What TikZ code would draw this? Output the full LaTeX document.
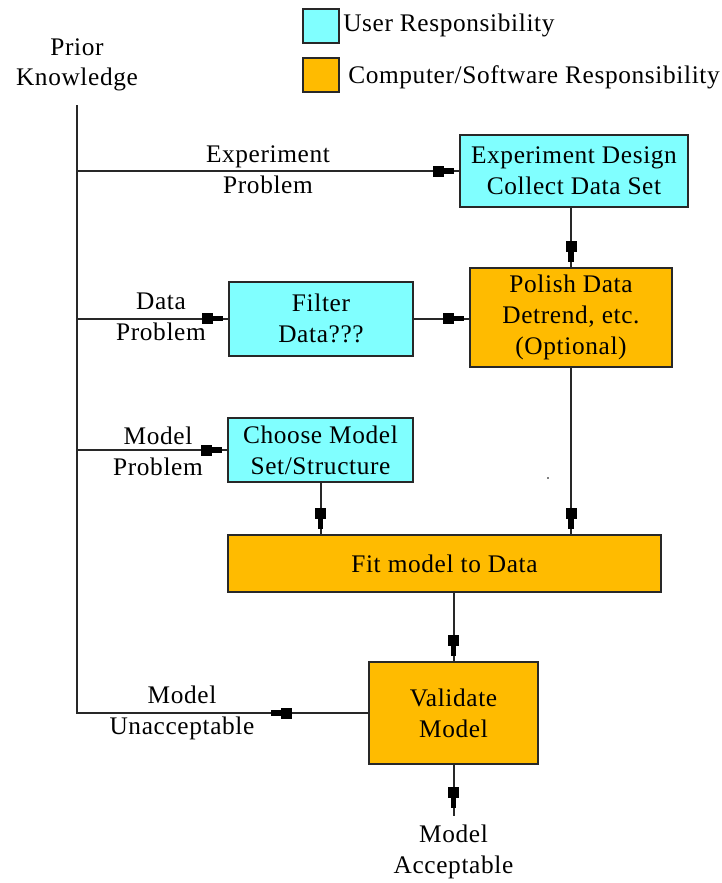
\documentclass[tikz,border=0pt]{standalone}
\usepackage{fontspec}
\setmainfont{Liberation Serif}[LetterSpace=2.5]
\usetikzlibrary{decorations.markings}
\definecolor{usercol}{RGB}{128,255,255}
\definecolor{compcol}{RGB}{255,187,0}
\definecolor{edgecol}{RGB}{40,40,40}
\newcommand\myblockhead{\fill[black] (-21,-5.5) rectangle (-10,5.5); \fill[black] (-10.5,-2.8) rectangle (0,2.8);}
\tikzset{
  box/.style={draw=edgecol, line width=1.5pt, rectangle, align=center, inner sep=2pt},
  userbox/.style={box, fill=usercol},
  compbox/.style={box, fill=compcol},
  conn/.style={draw=edgecol, line width=1.5pt},
  headat/.style={postaction={decorate, decoration={markings, mark=at position #1 with {\myblockhead}}}},
  lbl/.style={align=center, inner sep=0pt},
}
\begin{document}
\begin{tikzpicture}[x=0.75pt, y=-0.75pt, font=\rmfamily\fontsize{19}{23}\selectfont]
\useasboundingbox (0,0) rectangle (722,883);
% legend
\node[userbox, minimum width=27pt, minimum height=25.5pt] (lu) at (321,26) {};
\node[anchor=west, inner sep=0pt] (lut) at (343,25) {User Responsibility};
\node[compbox, minimum width=27pt, minimum height=25.5pt] (lc) at (321,75) {};
\node[anchor=west, inner sep=0pt] (lct) at (348,77) {Computer/Software Responsibility};
% prior
\node[lbl] (prior) at (77,65) {Prior\\Knowledge};
\coordinate (pk) at (77,105);
% boxes
\node[userbox, minimum width=171pt, minimum height=54pt] (exp) at (574,171) {Experiment Design\\Collect Data Set};
\node[compbox, minimum width=151.5pt, minimum height=74pt] (pol) at (571,317.5) {Polish Data\\Detrend, etc.\\(Optional)};
\node[userbox, minimum width=138pt, minimum height=55.5pt] (fil) at (321,318.5) {Filter\\Data???};
\node[userbox, minimum width=138.75pt, minimum height=48pt] (cho) at (320.5,450) {Choose Model\\Set/Structure};
\node[compbox, minimum width=325pt, minimum height=43pt] (fit) at (444.5,563.5) {Fit model to Data};
\node[compbox, minimum width=127pt, minimum height=76.5pt] (val) at (453.5,713) {Validate\\Model};
\coordinate (accend) at (453.5,816);
\node[lbl] (acc) at (453.5,852) {Model\\Acceptable};
% labels
\node[lbl] (lexp) at (268,170) {Experiment\\Problem};
\node[lbl] (ldat) at (161,317) {Data\\Problem};
\node[lbl] (lmod) at (158,451) {Model\\Problem};
\node[lbl] (lunacc) at (182,713) {Model\\Unacceptable};
% connectors
\draw[conn, headat=72.75pt] (val.west) -- (pk |- val.west) -- (pk);
\draw[conn, headat=-3.75pt] (pk |- exp.west) -- (exp.west);
\draw[conn, headat=-3.75pt] (pk |- fil.west) -- (fil.west);
\draw[conn, headat=-3.75pt] (pk |- cho.west) -- (cho.west);
\draw[conn, headat=-3.75pt] (fil.east) -- (fil.east -| pol.west);
\draw[conn, headat=-3.75pt] (pol.north |- exp.south) -- (pol.north);
\draw[conn, headat=-3.75pt] (pol.south) -- (pol.south |- fit.north);
\draw[conn, headat=-3.75pt] (cho.south) -- (cho.south |- fit.north);
\draw[conn, headat=-3.75pt] (val.north |- fit.south) -- (val.north);
\draw[conn, headat=-6pt] (val.south) -- (accend);
% stray dot
\fill[gray] (547,477) rectangle (549,479);
\end{tikzpicture}
\end{document}
